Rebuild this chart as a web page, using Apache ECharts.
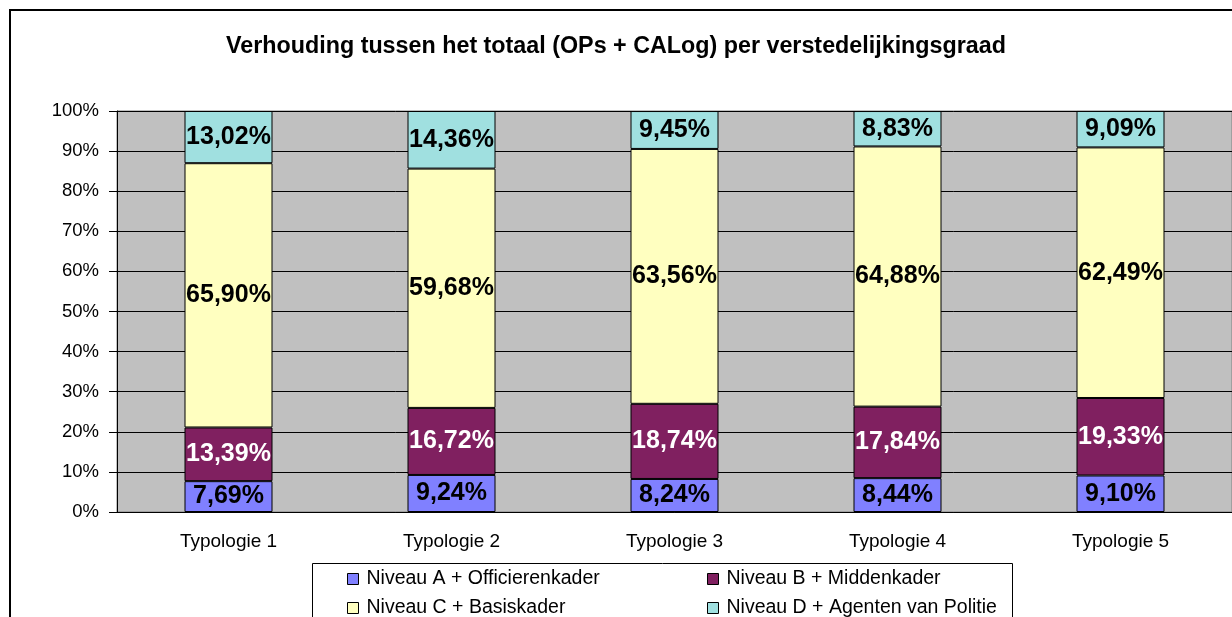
<!DOCTYPE html>
<html lang="nl">
  <head>
    <meta charset="UTF-8" />
    <title>Verhouding per verstedelijkingsgraad</title>
    <script src="https://cdn.jsdelivr.net/npm/echarts@6/dist/echarts.min.js"></script>
    <style>
      html, body { margin: 0; padding: 0; background: #fff; }
    </style>
  </head>
  <body>
    <div id="main" style="width: 1232px; height: 617px"></div>
  </body>
</html>
<script>
  const categories = ['Typologie 1', 'Typologie 2', 'Typologie 3', 'Typologie 4', 'Typologie 5']
  const niveauA = [7.69, 9.24, 8.24, 8.44, 9.10]
  const niveauB = [13.39, 16.72, 18.74, 17.84, 19.33]
  const niveauC = [65.90, 59.68, 63.56, 64.88, 62.49]
  const niveauD = [13.02, 14.36, 9.45, 8.83, 9.09]
  const seriesNames = [
    'Niveau A + Officierenkader',
    'Niveau B + Middenkader',
    'Niveau C + Basiskader',
    'Niveau D + Agenten van Politie'
  ]

  const font = 'Arial, "Liberation Sans", sans-serif'
  const colors = ['#8080FF', '#802060', '#FFFFC0', '#A0E0E0']
  const labelColors = ['#000', '#fff', '#000', '#000']

  const chartInstance = echarts.init(document.getElementById('main'))

  const makeSeries = (name, data, i) => ({
    name: name,
    type: 'bar',
    stack: 'total',
    data: data,
    barWidth: 88,
    itemStyle: { color: colors[i], borderColor: '#000', borderWidth: 1 },
    label: {
      show: true,
      position: 'inside',
      color: labelColors[i],
      fontFamily: font,
      fontWeight: 'bold',
      fontSize: 25,
      formatter: (p) => p.value.toFixed(2).replace('.', ',') + '%'
    },
    emphasis: { disabled: true }
  })

  // one legend per entry so the two columns line up like the original
  const legendPos = [
    { left: 347, top: 569 },
    { left: 707, top: 569 },
    { left: 347, top: 598 },
    { left: 707, top: 598 }
  ]
  const legends = seriesNames.map((name, i) => ({
    data: [name],
    left: legendPos[i].left,
    top: legendPos[i].top,
    padding: 0,
    itemWidth: 11,
    itemHeight: 11,
    icon: 'rect',
    selectedMode: false,
    itemStyle: { borderColor: '#000', borderWidth: 1 },
    textStyle: {
      fontFamily: font,
      fontSize: 19.5,
      lineHeight: 20,
      color: '#000',
      padding: [0, 0, 0, 3]
    }
  }))

  const option = {
    animation: false,
    textStyle: { fontFamily: font },
    title: {
      text: 'Verhouding tussen het totaal (OPs + CALog) per verstedelijkingsgraad',
      left: 'center',
      top: 30,
      textStyle: { fontFamily: font, fontSize: 23.3, fontWeight: 'bold', color: '#000' }
    },
    graphic: [
      {
        type: 'rect',
        shape: { x: 10, y: 10, width: 1400, height: 800 },
        style: { fill: 'none', stroke: '#000', lineWidth: 2 },
        z: -1
      },
      {
        type: 'rect',
        shape: { x: 312.5, y: 563.5, width: 700, height: 80 },
        style: { fill: '#fff', stroke: '#000', lineWidth: 1 },
        z: -1
      }
    ],
    legend: legends,
    grid: {
      left: 117,
      right: 0,
      top: 111,
      bottom: 105,
      show: true,
      backgroundColor: '#C0C0C0',
      borderColor: '#808080',
      borderWidth: 1
    },
    xAxis: {
      type: 'category',
      data: categories,
      axisLine: { lineStyle: { color: '#000' } },
      axisTick: { length: 7, lineStyle: { color: '#000' } },
      axisLabel: { color: '#000', fontSize: 19, margin: 20 }
    },
    yAxis: {
      type: 'value',
      min: 0,
      max: 100,
      interval: 10,
      axisLine: { show: true, lineStyle: { color: '#000' } },
      axisTick: { show: true, length: 8, lineStyle: { color: '#000' } },
      axisLabel: { color: '#000', fontSize: 18.5, margin: 18, formatter: '{value}%' },
      splitLine: { lineStyle: { color: '#000', width: 1 } }
    },
    series: [
      makeSeries(seriesNames[0], niveauA, 0),
      makeSeries(seriesNames[1], niveauB, 1),
      makeSeries(seriesNames[2], niveauC, 2),
      makeSeries(seriesNames[3], niveauD, 3)
    ]
  }

  chartInstance.setOption(option)
</script>
